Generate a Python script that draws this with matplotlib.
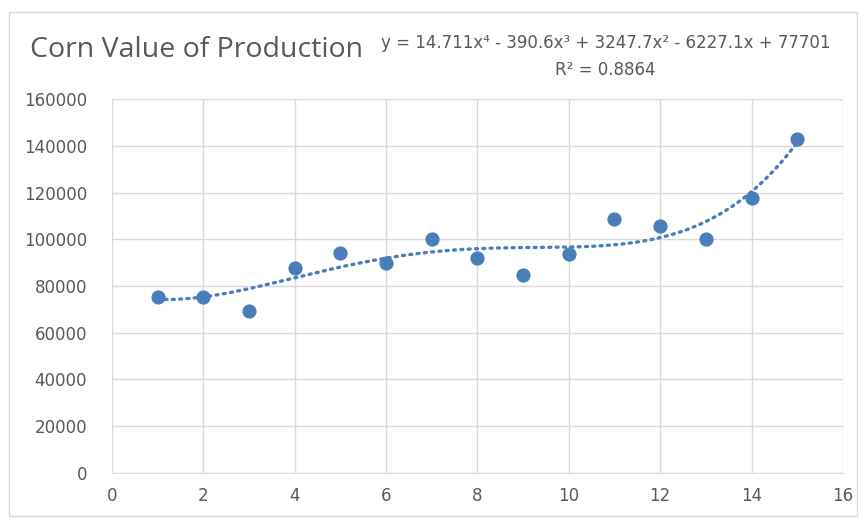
import numpy as np
import matplotlib.pyplot as plt
from matplotlib.patches import Rectangle

# data
years = [1, 2, 3, 4, 5, 6, 7, 8, 9, 10, 11, 12, 13, 14, 15]
value = [75300, 75500, 69300, 87700, 94100, 89800, 100100, 92000,
         84700, 93700, 108700, 105700, 100100, 117600, 142900]
# trendline coefficients as printed on the chart (x^4 .. x^0)
trend_coef = [14.711, -390.6, 3247.7, -6227.1, 77701]
x_ticks = [0, 2, 4, 6, 8, 10, 12, 14, 16]
y_ticks = [0, 20000, 40000, 60000, 80000, 100000, 120000, 140000, 160000]

blue = "#4a7ebb"
grey_txt = "#595959"
grid_col = "#d9d9d9"

fig = plt.figure(figsize=(8.61, 5.22), dpi=100)
ax = fig.add_axes([0.130, 0.094, 0.849, 0.716])

# chart area border
fig.patches.append(Rectangle((0.010, 0.012), 0.985, 0.965, transform=fig.transFigure,
                             fill=False, edgecolor="#d9d9d9", linewidth=1))

xs = np.linspace(years[0], years[-1], 200)
ax.plot(xs, np.polyval(trend_coef, xs), linestyle=(0, (0.6, 1.6)), color=blue,
        linewidth=2.4, dash_capstyle="round", zorder=2)
ax.scatter(years, value, s=85, color=blue, zorder=3)

ax.set_xlim(0, 16)
ax.set_ylim(0, 160000)
ax.set_xticks(x_ticks)
ax.set_yticks(y_ticks)
ax.grid(True, color=grid_col, linewidth=1)
ax.set_axisbelow(True)
for s in ["top", "right", "left"]:
    ax.spines[s].set_visible(False)
ax.spines["bottom"].set_color(grid_col)
ax.tick_params(length=0, colors=grey_txt, labelsize=12, pad=18)
ax.tick_params(axis="x", pad=10)

fig.text(0.035, 0.905, "Corn Value of Production", fontsize=20.5, color=grey_txt,
         va="center", ha="left", family="Open Sans")
eq_font = ["Liberation Sans Narrow", "DejaVu Sans"]
fig.text(0.703, 0.918, "y = 14.711x⁴ - 390.6x³ + 3247.7x² - 6227.1x + 77701",
         fontsize=12, color=grey_txt, ha="center", va="center", family=eq_font)
fig.text(0.703, 0.866, "R² = 0.8864", fontsize=12, color=grey_txt,
         ha="center", va="center", family=eq_font)

fig.savefig("out.png", dpi=100)
